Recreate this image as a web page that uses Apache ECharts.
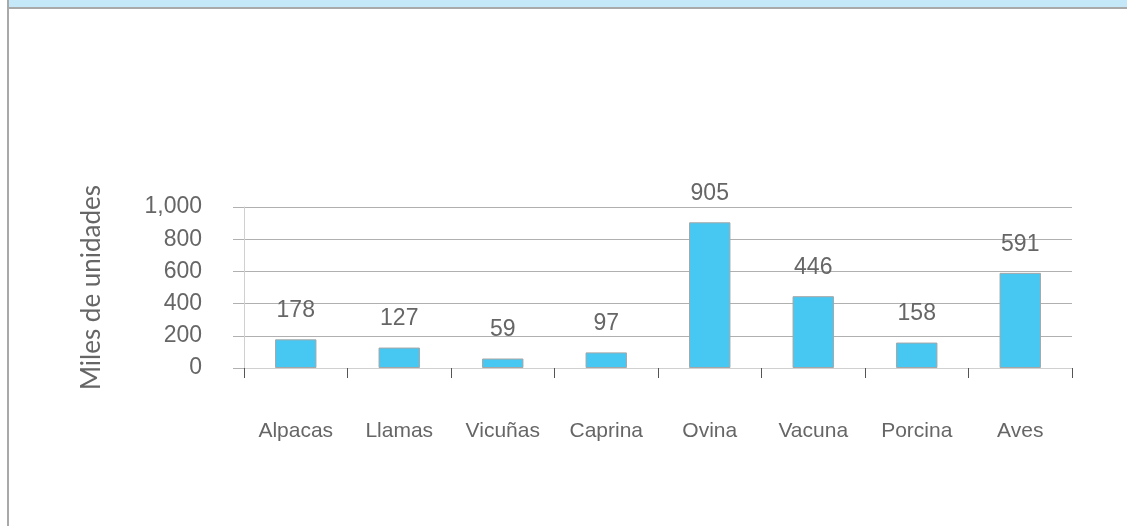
<!DOCTYPE html>
<html>
<head>
<meta charset="utf-8">
<script src="https://cdn.jsdelivr.net/npm/echarts@6/dist/echarts.min.js"></script>
<style>
  html, body { margin: 0; padding: 0; background: #fff; }
  #chart { width: 1127px; height: 526px; }
</style>
</head>
<body>
<div id="chart"></div>
<script>
// categorias y valores (miles de unidades)
var categories = ["Alpacas", "Llamas", "Vicuñas", "Caprina", "Ovina", "Vacuna", "Porcina", "Aves"];
var values = [178, 127, 59, 97, 905, 446, 158, 591];
var yTicks = [0, 200, 400, 600, 800, 1000];

var chart = echarts.init(document.getElementById("chart"));

var option = {
  animation: false,
  backgroundColor: "#ffffff",
  graphic: [
    // marco superior azul y bordes grises
    { type: "rect", shape: { x: 9, y: 0, width: 1118, height: 7 }, style: { fill: "#c5e8f8" } },
    { type: "rect", shape: { x: 9, y: 7, width: 1118, height: 2 }, style: { fill: "#a9a9a9" } },
    { type: "rect", shape: { x: 7, y: 0, width: 2, height: 526 }, style: { fill: "#a9a9a9" } }
  ],
  grid: {
    left: 244,
    right: 55,
    top: 207,
    bottom: 158
  },
  xAxis: {
    type: "category",
    data: categories,
    axisLine: { lineStyle: { color: "#d0d0d0", width: 1 } },
    axisTick: {
      show: true,
      alignWithLabel: false,
      length: 10,
      lineStyle: { color: "#555555" }
    },
    axisLabel: {
      margin: 53,
      color: "#666666",
      fontSize: 21,
      fontFamily: "Liberation Sans, Arial, sans-serif"
    }
  },
  yAxis: {
    type: "value",
    min: yTicks[0],
    max: yTicks[yTicks.length - 1],
    interval: 200,
    name: "Miles de unidades",
    nameLocation: "middle",
    nameGap: 139,
    nameTextStyle: {
      color: "#666666",
      fontSize: 26,
      fontFamily: "Lato, Open Sans, sans-serif"
    },
    axisLine: { show: true, lineStyle: { color: "#d0d0d0" } },
    axisTick: { show: true, length: 11, lineStyle: { color: "#b0b0b0" } },
    axisLabel: {
      margin: 42,
      color: "#666666",
      fontSize: 23,
      fontFamily: "Liberation Sans, Arial, sans-serif",
      formatter: function (v) { return v.toLocaleString("en-US"); }
    },
    splitLine: { lineStyle: { color: "#b0b0b0", width: 1 } }
  },
  series: [
    {
      type: "bar",
      data: values,
      barWidth: "40%",
      itemStyle: {
        color: "#47c8f3",
        borderColor: "#a6a6a6",
        borderWidth: 1
      },
      label: {
        show: true,
        position: "top",
        distance: 17,
        color: "#666666",
        fontSize: 23,
        fontFamily: "Liberation Sans, Arial, sans-serif"
      }
    }
  ]
};

chart.setOption(option);
</script>
</body>
</html>
